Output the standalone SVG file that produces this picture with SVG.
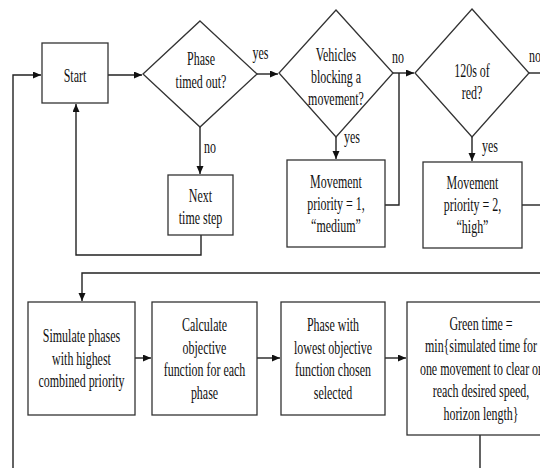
<svg xmlns="http://www.w3.org/2000/svg" width="540" height="468" viewBox="0 0 540 468">
<defs>
<marker id="ah" markerUnits="userSpaceOnUse" markerWidth="9" markerHeight="8" refX="8" refY="3.5" orient="auto">
<path d="M0,0 L8,3.5 L0,7 z" fill="#111"/>
</marker>
<style>
.b{fill:#fff;stroke:#333;stroke-width:1.3}
.c{fill:none;stroke:#222;stroke-width:1.4}
.a{marker-end:url(#ah)}
.t{font-family:"Liberation Serif","Times New Roman",serif;font-size:19px;text-anchor:middle;fill:#111}
.l{font-family:"Liberation Serif","Times New Roman",serif;font-size:19px;text-anchor:start;fill:#111}
</style>
</defs>
<rect width="540" height="468" fill="#fff"/>
<g id="connectors">
<path class="c a" d="M13,468 V75 H41"/>
<path class="c a" d="M108,75 H142"/>
<path class="c a" d="M257,74 H278"/>
<path class="c a" d="M200,127 V174"/>
<path class="c a" d="M201,235 V255 H76 V104"/>
<path class="c a" d="M393,73 H414"/>
<path class="c" d="M399,73 V205 H385"/>
<path class="c a" d="M336,137 V159"/>
<path class="c" d="M529,73 H540"/>
<path class="c a" d="M472,137 V161"/>
<path class="c" d="M522,205 H540"/>
<path class="c a" d="M540,273 H82 V301"/>
<path class="c a" d="M135,358 H151"/>
<path class="c a" d="M257,358 H280"/>
<path class="c a" d="M385,358 H406"/>
<path class="c" d="M480,435 V468"/>
</g>
<g id="labels">
<text class="t" transform="translate(260.5 59) scale(0.63 1)">yes</text>
<text class="t" transform="translate(210 153) scale(0.63 1)">no</text>
<text class="t" transform="translate(398 63) scale(0.63 1)">no</text>
<text class="t" transform="translate(352 143) scale(0.63 1)">yes</text>
<text class="l" transform="translate(529 62) scale(0.63 1)">no</text>
<text class="t" transform="translate(490 152) scale(0.63 1)">yes</text>
</g>
<g id="start">
<rect class="b" x="42" y="43" width="66" height="60"/>
<text class="t" transform="translate(75 81.5) scale(0.63 1)">Start</text>
</g>
<g id="phase-timed-out">
<polygon class="b" points="200,21 257,74 200,127 143,74"/>
<text class="t" transform="translate(201 0) scale(0.63 1)"><tspan x="0" y="65">Phase</tspan><tspan x="0" y="88">timed out?</tspan></text>
</g>
<g id="next-time-step">
<rect class="b" x="168" y="175" width="65" height="60"/>
<text class="t" transform="translate(200.5 0) scale(0.63 1)"><tspan x="0" y="202">Next</tspan><tspan x="0" y="224">time step</tspan></text>
</g>
<g id="vehicles-blocking">
<polygon class="b" points="336,10 393,73 336,137 279,73"/>
<text class="t" transform="translate(336 0) scale(0.63 1)"><tspan x="0" y="61">Vehicles</tspan><tspan x="0" y="83">blocking a</tspan><tspan x="0" y="105">movement?</tspan></text>
</g>
<g id="priority-medium">
<rect class="b" x="287" y="160" width="98" height="87"/>
<text class="t" transform="translate(336 0) scale(0.63 1)"><tspan x="0" y="188">Movement</tspan><tspan x="0" y="210">priority = 1,</tspan><tspan x="0" y="232">“medium”</tspan></text>
</g>
<g id="red-120s">
<polygon class="b" points="472,9 529,73 472,137 415,73"/>
<text class="t" transform="translate(472 0) scale(0.63 1)"><tspan x="0" y="77">120s of</tspan><tspan x="0" y="99">red?</tspan></text>
</g>
<g id="priority-high">
<rect class="b" x="423" y="162" width="99" height="86"/>
<text class="t" transform="translate(472.5 0) scale(0.63 1)"><tspan x="0" y="189">Movement</tspan><tspan x="0" y="211">priority = 2,</tspan><tspan x="0" y="233">“high”</tspan></text>
</g>
<g id="simulate">
<rect class="b" x="28" y="302" width="107" height="113"/>
<text class="t" transform="translate(81.5 0) scale(0.63 1)"><tspan x="0" y="342.5">Simulate phases</tspan><tspan x="0" y="365">with highest</tspan><tspan x="0" y="387.5">combined priority</tspan></text>
</g>
<g id="calculate">
<rect class="b" x="152" y="302" width="105" height="113"/>
<text class="t" transform="translate(204.5 0) scale(0.63 1)"><tspan x="0" y="331.5">Calculate</tspan><tspan x="0" y="354">objective</tspan><tspan x="0" y="376.5">function for each</tspan><tspan x="0" y="399">phase</tspan></text>
</g>
<g id="lowest-phase">
<rect class="b" x="281" y="302" width="104" height="113"/>
<text class="t" transform="translate(333 0) scale(0.63 1)"><tspan x="0" y="331.5">Phase with</tspan><tspan x="0" y="354">lowest objective</tspan><tspan x="0" y="376.5">function chosen</tspan><tspan x="0" y="399">selected</tspan></text>
</g>
<g id="green-time">
<rect class="b" x="407" y="302" width="148" height="133"/>
<text class="t" transform="translate(481 0) scale(0.63 1)"><tspan x="0" y="330">Green time =</tspan><tspan x="0" y="352.5">min{simulated time for</tspan><tspan x="0" y="375">one movement to clear or</tspan><tspan x="0" y="397.5">reach desired speed,</tspan><tspan x="0" y="420">horizon length}</tspan></text>
</g>
</svg>
